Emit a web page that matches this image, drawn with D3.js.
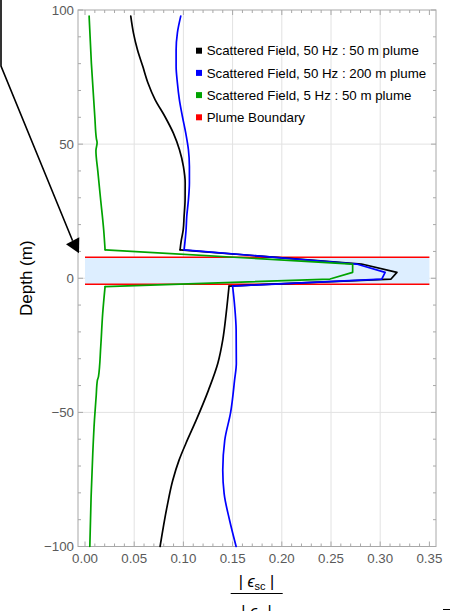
<!DOCTYPE html>
<html>
<head>
<meta charset="utf-8">
<script src="https://cdn.jsdelivr.net/npm/d3@7"></script>
<style>
  body { margin: 0; background: #fff; }
  svg { display: block; font-family: "Liberation Sans", Arial, sans-serif; }
</style>
</head>
<body>
<svg id="chart" width="450" height="611"></svg>
<script>
// ---- axis ticks ----
const xTickValues = [0, 0.05, 0.10, 0.15, 0.20, 0.25, 0.30, 0.35];
const xTickLabels = ["0.00", "0.05", "0.10", "0.15", "0.20", "0.25", "0.30", "0.35"];
const yTickValues = [-100, -50, 0, 50, 100];
const yTickLabels = ["\u2212100", "\u221250", "0", "50", "100"];
const xGridValues = [0.05, 0.10, 0.15, 0.20, 0.25, 0.30];
const yGridValues = [-50, 0, 50];

// ---- plume layer (depth, m) ----
const plumeTop = 7.8;
const plumeBottom = -2.2;

// ---- profiles: [depth (m), |E_sc| / |E_0|] ----
// 50 Hz, 50 m plume
const black50Above = [[97.7,0.0465],[91.5,0.0492],[85.2,0.0533],[79.0,0.0587],[72.8,0.0640],[66.6,0.0712],[60.3,0.0812],[54.1,0.0898],[47.9,0.0960],[41.7,0.1000],[35.5,0.1018],[29.2,0.1017],[23.0,0.1007],[18.0,0.0998],[14.0,0.0978],[10.6,0.0966]];
const black50Plume = [[10.6,0.0966],[5.3,0.281],[2.2,0.317],[-0.3,0.311],[-2.9,0.1464]];
const black50Below = [[-2.9,0.1464],[-13.0,0.1435],[-23.0,0.1400],[-31.7,0.1350],[-41.7,0.1255],[-52.9,0.1130],[-61.6,0.1025],[-67.9,0.0955],[-75.3,0.0892],[-85.3,0.0833],[-100,0.0763]];

// 50 Hz, 200 m plume
const blue200Above = [[97.7,0.0973],[91.5,0.0939],[85.2,0.0926],[79.0,0.0926],[72.8,0.0939],[66.6,0.0959],[60.3,0.0990],[54.1,0.1024],[47.9,0.1051],[41.7,0.1061],[35.5,0.1061],[29.2,0.1051],[23.0,0.1034],[18.0,0.1027],[10.6,0.1007]];
const blue200Plume = [[10.6,0.1007],[5.3,0.276],[2.2,0.305],[-0.3,0.3016],[-2.9,0.1500]];
const blue200Below = [[-2.9,0.1500],[-10.0,0.1520],[-19.3,0.1536],[-31.7,0.1538],[-38.0,0.1520],[-50.0,0.1480],[-60.4,0.1420],[-71.6,0.1400],[-80.3,0.1414],[-90.3,0.1470],[-100,0.1536]];

// 5 Hz, 50 m plume
const green5Above = [[97.7,0.0042],[80.0,0.0065],[60.0,0.0100],[52.0,0.0116],[50.5,0.0123],[47.5,0.0111],[40.0,0.0130],[30.0,0.0157],[18.0,0.0190],[10.6,0.0204]];
const green5Plume = [[10.6,0.0204],[5.3,0.272],[2.2,0.272],[-0.3,0.249],[-3.1,0.0204]];
const green5Below = [[-3.1,0.0204],[-13.0,0.0180],[-25.5,0.0160],[-36.7,0.0137],[-38.0,0.0126],[-44.2,0.0113],[-52.9,0.0096],[-65.3,0.0079],[-81.5,0.0062],[-100,0.0049]];

const seriesNames = ["Scattered Field, 50 Hz : 50 m plume", "Scattered Field, 50 Hz : 200 m plume", "Scattered Field, 5 Hz : 50 m plume", "Plume Boundary"];
const seriesColors = ["#000000", "#0000ff", "#00a300", "#ff0000"];

const svg = d3.select("#chart");

const x = d3.scaleLinear().domain([0, 0.35]).range([85, 429.4]);
const y = d3.scaleLinear().domain([-100, 100]).range([546.5, 10]);

const frameL = x(0) - 7, frameR = x(0.35) + 6.6;
const frameT = y(100), frameB = y(-100);

// grid
const grid = svg.append("g").attr("stroke", "#e2e2e2").attr("stroke-width", 1);
grid.selectAll("line.v").data(xGridValues).join("line")
  .attr("x1", d => x(d)).attr("x2", d => x(d))
  .attr("y1", frameT).attr("y2", frameB);
grid.selectAll("line.h").data(yGridValues).join("line")
  .attr("x1", frameL).attr("x2", frameR)
  .attr("y1", d => y(d)).attr("y2", d => y(d));

// plume layer
svg.append("rect")
  .attr("x", x(0)).attr("width", x(0.35) - x(0))
  .attr("y", y(plumeTop)).attr("height", y(plumeBottom) - y(plumeTop))
  .attr("fill", "#ddeeff");
svg.selectAll("line.boundary").data([plumeTop, plumeBottom]).join("line")
  .attr("x1", x(0)).attr("x2", x(0.35))
  .attr("y1", d => y(d)).attr("y2", d => y(d))
  .attr("stroke", seriesColors[3]).attr("stroke-width", 1.5);

// frame and ticks
const axisColor = "#a8a8a8";
svg.append("rect")
  .attr("x", frameL).attr("y", frameT)
  .attr("width", frameR - frameL).attr("height", frameB - frameT)
  .attr("fill", "none").attr("stroke", axisColor).attr("stroke-width", 1);

const ticks = svg.append("g").attr("stroke", axisColor).attr("stroke-width", 1);
const xMinor = d3.range(0, 0.3501, 0.01);
const yMinor = d3.range(-100, 100.01, 10);
const isMajorX = v => Math.abs(v / 0.05 - Math.round(v / 0.05)) < 1e-6;
const isMajorY = v => v % 50 === 0;
xMinor.forEach(v => {
  const len = isMajorX(v) ? 5 : 3;
  ticks.append("line").attr("x1", x(v)).attr("x2", x(v)).attr("y1", frameB).attr("y2", frameB - len);
  ticks.append("line").attr("x1", x(v)).attr("x2", x(v)).attr("y1", frameT).attr("y2", frameT + len);
});
yMinor.forEach(v => {
  const len = isMajorY(v) ? 5 : 3;
  ticks.append("line").attr("x1", frameL).attr("x2", frameL + len).attr("y1", y(v)).attr("y2", y(v));
  ticks.append("line").attr("x1", frameR).attr("x2", frameR - len).attr("y1", y(v)).attr("y2", y(v));
});

// tick labels
const labelColor = "#5a5a5a";
svg.append("g").selectAll("text").data(xTickValues).join("text")
  .attr("x", d => x(d)).attr("y", 562.7)
  .attr("text-anchor", "middle").attr("font-size", 13.3).attr("fill", labelColor)
  .text((d, i) => xTickLabels[i]);
svg.append("g").selectAll("text").data(yTickValues).join("text")
  .attr("x", frameL - 4).attr("y", d => y(d)).attr("dy", "0.36em")
  .attr("text-anchor", "end").attr("font-size", 13.3).attr("fill", labelColor)
  .text((d, i) => yTickLabels[i]);

// profiles
const smooth = d3.line().x(d => x(d[1])).y(d => y(d[0])).curve(d3.curveMonotoneY);
const straight = d3.line().x(d => x(d[1])).y(d => y(d[0]));
const profiles = [
  [black50Above, black50Plume, black50Below],
  [blue200Above, blue200Plume, blue200Below],
  [green5Above, green5Plume, green5Below]
];
profiles.forEach((parts, i) => {
  const g = svg.append("g").attr("fill", "none").attr("stroke", seriesColors[i])
    .attr("stroke-width", 1.7).attr("stroke-linejoin", "round").attr("stroke-linecap", "round");
  g.append("path").attr("d", smooth(parts[0]));
  g.append("path").attr("d", straight(parts[1]));
  g.append("path").attr("d", smooth(parts[2]));
});

// legend
const legend = svg.append("g").attr("transform", "translate(196,0)");
seriesNames.forEach((name, i) => {
  const cy = 50.7 + i * 22.2;
  legend.append("rect").attr("x", 0).attr("y", cy - 3).attr("width", 6).attr("height", 6).attr("fill", seriesColors[i]);
  legend.append("text").attr("x", 10.7).attr("y", cy).attr("dy", "0.36em")
    .attr("font-size", 13.3).attr("fill", "#000").text(name);
});

// axis titles
svg.append("text")
  .attr("transform", "translate(32," + y(0) + ") rotate(-90)")
  .attr("text-anchor", "middle").attr("font-size", 17).attr("fill", "#000")
  .text("Depth (m)");

const xt = svg.append("g").attr("fill", "#000");
const num = xt.append("text").attr("x", 256.5).attr("y", 586.7).attr("text-anchor", "middle").attr("font-size", 16);
num.append("tspan").text("| ");
num.append("tspan").attr("font-style", "italic").text("\u03f5");
num.append("tspan").attr("font-size", 11).attr("dy", 3).text("sc");
num.append("tspan").attr("dy", -3).text(" |");
xt.append("line").attr("x1", 230.7).attr("x2", 282.7).attr("y1", 593.5).attr("y2", 593.5)
  .attr("stroke", "#000").attr("stroke-width", 1);
// denominator sits partly below the lower edge of the page
const den = xt.append("text").attr("x", 256.5).attr("y", 617).attr("text-anchor", "middle").attr("font-size", 16);
den.append("tspan").text("| ");
den.append("tspan").attr("font-style", "italic").text("\u03f5");
den.append("tspan").attr("font-size", 11).attr("dy", 3).text("0");
den.append("tspan").attr("dy", -3).text(" |");

// pointer from the caption box into the plume
svg.append("path").attr("d", "M1,0 L1,66 L72.6,240.8").attr("fill", "none")
  .attr("stroke", "#000").attr("stroke-width", 1.6);
svg.append("path").attr("d", "M79,253.3 L66,244.3 L79.3,237.3 Z").attr("fill", "#000");

// small mark at the lower right edge
svg.append("line").attr("x1", 443).attr("x2", 450).attr("y1", 609.5).attr("y2", 609.5)
  .attr("stroke", "#000").attr("stroke-width", 1);
</script>
</body>
</html>
